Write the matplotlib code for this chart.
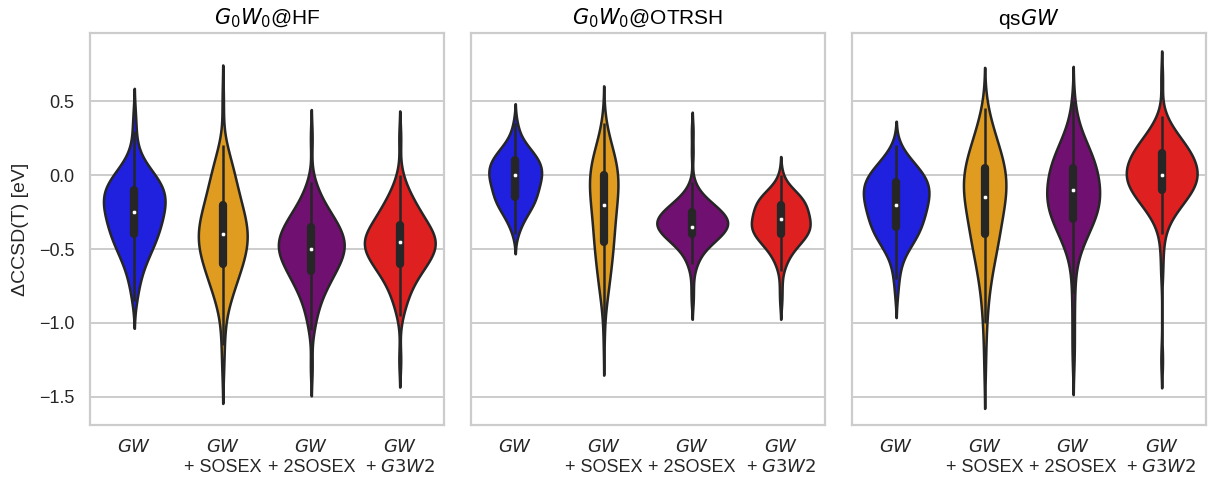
import colorsys
import numpy as np
import matplotlib
matplotlib.use("Agg")
import matplotlib.pyplot as plt
from matplotlib import cbook
from matplotlib.colors import to_rgb

# ---------------- data ----------------
# shared value grid (eV), top to bottom; each violin is given as counts per grid value
bins = [0.80, 0.75, 0.70, 0.65, 0.60, 0.55, 0.50, 0.45, 0.40, 0.35,
        0.30, 0.25, 0.20, 0.15, 0.10, 0.05, 0.00, -0.05, -0.10, -0.15,
        -0.20, -0.25, -0.30, -0.35, -0.40, -0.45, -0.50, -0.55, -0.60, -0.65,
        -0.70, -0.75, -0.80, -0.85, -0.90, -0.95, -1.00, -1.05, -1.10, -1.15,
        -1.20, -1.25, -1.30, -1.35, -1.40, -1.45, -1.50]

categories = ["$GW$", "$GW$\n+ SOSEX", "$GW$\n+ 2SOSEX", "$GW$\n+ $G3W2$"]
panel_titles = ["$G_0W_0$@HF", "$G_0W_0$@OTRSH", "qs$GW$"]
palette = ["blue", "orange", "purple", "red"]

# G0W0@HF
hf_gw = [0, 0, 0, 0, 0, 0, 0, 0, 1, 0,
         1, 0, 1, 1, 2, 4, 6, 8, 9, 9,
         9, 8, 8, 7, 7, 6, 5, 4, 3, 2,
         2, 1, 1, 1, 0, 0, 0, 0, 0, 0,
         0, 0, 0, 0, 0, 0, 0]
hf_sosex = [0, 0, 0, 0, 0, 0, 1, 0, 0, 0,
            0, 0, 1, 2, 2, 3, 3, 4, 4, 4,
            5, 6, 6, 7, 7, 7, 7, 6, 5, 5,
            4, 3, 3, 2, 1, 1, 0, 1, 0, 1,
            0, 0, 1, 0, 0, 0, 0]
hf_2sosex = [0, 0, 0, 0, 0, 0, 0, 0, 0, 0,
             0, 1, 0, 0, 0, 0, 0, 1, 2, 2,
             3, 5, 6, 7, 8, 9, 9, 8, 7, 6,
             5, 4, 3, 2, 2, 1, 1, 1, 0, 0,
             0, 0, 1, 0, 0, 0, 0]
hf_g3w2 = [0, 0, 0, 0, 0, 0, 0, 0, 0, 0,
           0, 1, 0, 0, 0, 0, 1, 1, 2, 3,
           4, 5, 6, 7, 9, 10, 9, 8, 7, 5,
           4, 3, 2, 2, 1, 1, 0, 0, 0, 0,
           0, 1, 0, 0, 0, 0, 0]

# G0W0@OTRSH
ot_gw = [0, 0, 0, 0, 0, 0, 0, 0, 0, 1,
         1, 2, 4, 7, 9, 10, 10, 9, 8, 8,
         7, 5, 3, 2, 1, 0, 0, 0, 0, 0,
         0, 0, 0, 0, 0, 0, 0, 0, 0, 0,
         0, 0, 0, 0, 0, 0, 0]
ot_sosex = [0, 0, 0, 0, 0, 0, 0, 0, 0, 1,
            1, 2, 3, 4, 5, 6, 6, 6, 6, 5,
            5, 5, 4, 4, 4, 4, 4, 3, 3, 3,
            2, 2, 2, 1, 1, 0, 0, 0, 1, 0,
            0, 0, 0, 0, 0, 0, 0]
ot_2sosex = [0, 0, 0, 0, 0, 0, 0, 0, 0, 0,
             1, 0, 0, 1, 0, 0, 0, 1, 2, 5,
             9, 13, 16, 16, 13, 9, 5, 3, 2, 1,
             0, 1, 0, 1, 0, 0, 0, 0, 0, 0,
             0, 0, 0, 0, 0, 0, 0]
ot_g3w2 = [0, 0, 0, 0, 0, 0, 0, 0, 0, 0,
           0, 0, 0, 0, 0, 0, 1, 1, 5, 9,
           10, 10, 11, 12, 11, 8, 5, 3, 2, 1,
           0, 1, 0, 1, 0, 0, 0, 0, 0, 0,
           0, 0, 0, 0, 0, 0, 0]

# qsGW
qs_gw = [0, 0, 0, 0, 0, 0, 0, 0, 0, 0,
         0, 0, 1, 2, 4, 6, 8, 9, 9, 9,
         8, 8, 7, 7, 6, 5, 3, 2, 1, 1,
         1, 0, 1, 0, 0, 0, 0, 0, 0, 0,
         0, 0, 0, 0, 0, 0, 0]
qs_sosex = [0, 0, 0, 0, 0, 0, 0, 1, 1, 2,
            2, 3, 4, 4, 5, 6, 6, 6, 6, 6,
            5, 5, 4, 4, 4, 4, 3, 3, 2, 2,
            2, 1, 1, 1, 1, 0, 1, 0, 1, 0,
            0, 0, 1, 0, 0, 0, 0]
qs_2sosex = [0, 0, 0, 0, 0, 0, 1, 0, 1, 1,
             2, 3, 4, 5, 6, 7, 7, 7, 7, 8,
             8, 7, 6, 5, 4, 3, 2, 1, 1, 0,
             1, 0, 1, 0, 0, 1, 0, 0, 1, 0,
             0, 1, 0, 0, 0, 0, 0]
qs_g3w2 = [0, 0, 0, 1, 0, 0, 0, 0, 1, 2,
           3, 5, 7, 8, 9, 10, 10, 10, 9, 7,
           5, 4, 2, 1, 1, 0, 1, 0, 0, 1,
           0, 0, 0, 0, 0, 0, 0, 0, 0, 0,
           0, 1, 0, 0, 0, 0, 0]

panels = [[hf_gw, hf_sosex, hf_2sosex, hf_g3w2],
          [ot_gw, ot_sosex, ot_2sosex, ot_g3w2],
          [qs_gw, qs_sosex, qs_2sosex, qs_g3w2]]

# ---------------- style ----------------
plt.rcParams["font.family"] = ["Liberation Sans", "DejaVu Sans"]
plt.rcParams["mathtext.fontset"] = "dejavusans"
plt.rcParams["axes.unicode_minus"] = True
TICK_FS = 13
LABEL_FS = 14
TITLE_FS = 15
GRAY = "#262626"
LW = 1.8
BW_ADJUST = 1.0


def desaturate(c, prop=0.75):
    h, l, s = colorsys.rgb_to_hls(*to_rgb(c))
    return colorsys.hls_to_rgb(h, l, s * prop)


def kde(data, adjust):
    n = data.size
    bw = adjust * data.std(ddof=1) * n ** (-0.2)
    grid = np.linspace(data.min() - 2 * bw, data.max() + 2 * bw, 400)
    dens = np.exp(-0.5 * ((grid[:, None] - data[None, :]) / bw) ** 2).sum(1)
    dens /= n * bw * np.sqrt(2 * np.pi)
    return grid, dens


fig, axes = plt.subplots(1, 3, figsize=(12.08, 4.79), dpi=100, sharey=True)
fig.subplots_adjust(left=0.0745, right=0.9983, top=0.931, bottom=0.1127, wspace=0.076)

values = np.array(bins)
for ax, counts_list, title in zip(axes, panels, panel_titles):
    datasets = [np.repeat(values, c) for c in counts_list]
    kdes = [kde(d, BW_ADJUST) for d in datasets]
    dmax = max(k[1].max() for k in kdes)
    for i, (d, (grid, dens), col) in enumerate(zip(datasets, kdes, palette)):
        hw = 0.4 * dens / dmax
        ax.fill_betweenx(grid, i - hw, i + hw, facecolor=desaturate(col),
                         edgecolor=GRAY, linewidth=LW, zorder=2)
        st = cbook.boxplot_stats(d)[0]
        ax.plot([i, i], [st["whislo"], st["whishi"]], color=GRAY, lw=LW,
                solid_capstyle="butt", zorder=3)
        ax.plot([i, i], [st["q1"], st["q3"]], color=GRAY, lw=LW * 3.3,
                solid_capstyle="round", zorder=3)
        ax.scatter([i], [st["med"]], s=10, color="white", edgecolor=GRAY,
                   linewidth=0.4, zorder=4)
    ax.set_xlim(-0.5, 3.5)
    ax.set_xticks(range(4))
    ax.set_xticklabels(categories, fontsize=TICK_FS)
    ax.set_title(title, fontsize=TITLE_FS)
    ax.grid(axis="y", color="#cccccc", lw=1.4, zorder=0)
    ax.grid(axis="x", visible=False)
    ax.set_axisbelow(True)
    for sp in ax.spines.values():
        sp.set_color("#cccccc")
        sp.set_linewidth(1.6)
    ax.tick_params(axis="both", length=0, labelsize=TICK_FS, colors="#262626")
    ax.tick_params(axis="y", pad=11)
    ax.tick_params(axis="x", pad=10)

axes[0].set_ylim(-1.69, 0.96)
axes[0].set_yticks([-1.5, -1.0, -0.5, 0.0, 0.5])
axes[0].set_ylabel("ΔCCSD(T) [eV]", fontsize=LABEL_FS, color="#262626", labelpad=7)

fig.savefig("out.png", dpi=100)
